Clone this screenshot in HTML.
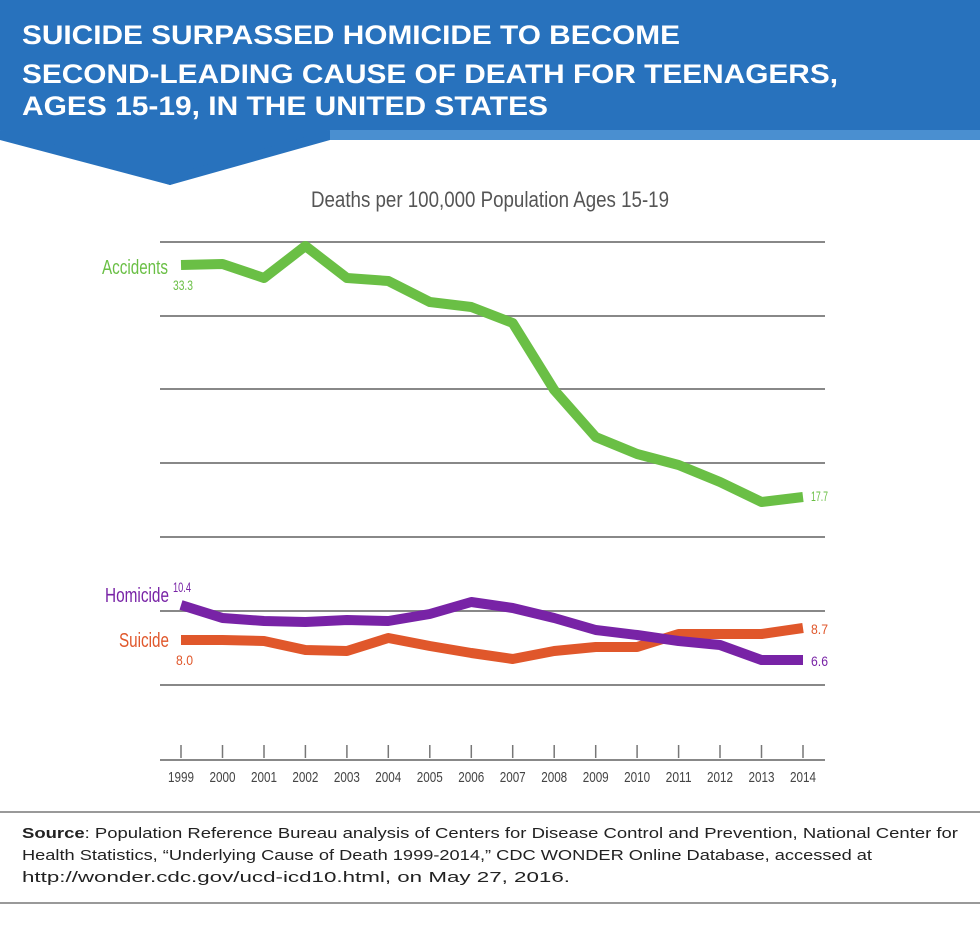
<!DOCTYPE html>
<html><head><meta charset="utf-8"><style>
body{margin:0;width:980px;height:931px;background:#fff;overflow:hidden;font-family:"Liberation Sans",sans-serif}
</style></head><body>
<svg width="980" height="931" xmlns="http://www.w3.org/2000/svg" style="position:absolute;left:0;top:0">
<rect x="0" y="0" width="980" height="140" fill="#4a8fd0"/>
<polygon points="0,0 980,0 980,130 330,130 170,185 0,130" fill="#2872bd"/>
<polygon points="0,130 0,140 170,185 330,140 330,130 170,175" fill="#2872bd"/>
<g font-family="Liberation Sans, sans-serif" font-weight="bold" fill="#fff" font-size="27" lengthAdjust="spacingAndGlyphs">
<text x="22" y="44" textLength="658" lengthAdjust="spacingAndGlyphs">SUICIDE SURPASSED HOMICIDE TO BECOME</text>
<text x="22" y="83" textLength="816" lengthAdjust="spacingAndGlyphs">SECOND-LEADING CAUSE OF DEATH FOR TEENAGERS,</text>
<text x="22" y="115" textLength="526" lengthAdjust="spacingAndGlyphs">AGES 15-19, IN THE UNITED STATES</text>
</g>
<text x="311" y="207" font-size="22" fill="#555" textLength="358" lengthAdjust="spacingAndGlyphs">Deaths per 100,000 Population Ages 15-19</text>
<g stroke="#888" stroke-width="2">
<line x1="160" x2="825" y1="242" y2="242"/><line x1="160" x2="825" y1="316" y2="316"/>
<line x1="160" x2="825" y1="389" y2="389"/><line x1="160" x2="825" y1="463" y2="463"/>
<line x1="160" x2="825" y1="537" y2="537"/><line x1="160" x2="825" y1="611" y2="611"/>
<line x1="160" x2="825" y1="685" y2="685"/><line x1="160" x2="825" y1="760" y2="760"/>
</g>
<g stroke="#777" stroke-width="1.5">
<line x1="181" x2="181" y1="745" y2="758"/><line x1="222.5" x2="222.5" y1="745" y2="758"/><line x1="264" x2="264" y1="745" y2="758"/><line x1="305.4" x2="305.4" y1="745" y2="758"/><line x1="346.9" x2="346.9" y1="745" y2="758"/><line x1="388.3" x2="388.3" y1="745" y2="758"/><line x1="429.8" x2="429.8" y1="745" y2="758"/><line x1="471.3" x2="471.3" y1="745" y2="758"/><line x1="512.7" x2="512.7" y1="745" y2="758"/><line x1="554.2" x2="554.2" y1="745" y2="758"/><line x1="595.7" x2="595.7" y1="745" y2="758"/><line x1="637.1" x2="637.1" y1="745" y2="758"/><line x1="678.6" x2="678.6" y1="745" y2="758"/><line x1="720" x2="720" y1="745" y2="758"/><line x1="761.5" x2="761.5" y1="745" y2="758"/><line x1="803" x2="803" y1="745" y2="758"/>
</g>
<g font-size="15" fill="#444" text-anchor="middle">
<text x="181" y="782" textLength="26" lengthAdjust="spacingAndGlyphs">1999</text><text x="222.5" y="782" textLength="26" lengthAdjust="spacingAndGlyphs">2000</text><text x="264" y="782" textLength="26" lengthAdjust="spacingAndGlyphs">2001</text><text x="305.4" y="782" textLength="26" lengthAdjust="spacingAndGlyphs">2002</text><text x="346.9" y="782" textLength="26" lengthAdjust="spacingAndGlyphs">2003</text><text x="388.3" y="782" textLength="26" lengthAdjust="spacingAndGlyphs">2004</text><text x="429.8" y="782" textLength="26" lengthAdjust="spacingAndGlyphs">2005</text><text x="471.3" y="782" textLength="26" lengthAdjust="spacingAndGlyphs">2006</text><text x="512.7" y="782" textLength="26" lengthAdjust="spacingAndGlyphs">2007</text><text x="554.2" y="782" textLength="26" lengthAdjust="spacingAndGlyphs">2008</text><text x="595.7" y="782" textLength="26" lengthAdjust="spacingAndGlyphs">2009</text><text x="637.1" y="782" textLength="26" lengthAdjust="spacingAndGlyphs">2010</text><text x="678.6" y="782" textLength="26" lengthAdjust="spacingAndGlyphs">2011</text><text x="720" y="782" textLength="26" lengthAdjust="spacingAndGlyphs">2012</text><text x="761.5" y="782" textLength="26" lengthAdjust="spacingAndGlyphs">2013</text><text x="803" y="782" textLength="26" lengthAdjust="spacingAndGlyphs">2014</text>
</g>
<g fill="none" stroke-width="10" stroke-linejoin="round">
<polyline stroke="#6abf45" points="181,265 222.5,264 264,278 305.4,246 346.9,278 388.3,281 429.8,302 471.3,307 512.7,323 554.2,390 595.7,437 637.1,454 678.6,465 720,482 761.5,502 803,497"/>
<polyline stroke="#e0572b" points="181,640 222.5,640 264,641 305.4,650 346.9,651 388.3,638 429.8,646 471.3,653 512.7,659 554.2,651 595.7,647 637.1,647 678.6,634 720,634 761.5,634 803,628"/>
<polyline stroke="#7823a6" points="181,605 222.5,618 264,621 305.4,622 346.9,620 388.3,621 429.8,614 471.3,602 512.7,608 554.2,618 595.7,630 637.1,635 678.6,641 720,645 761.5,660 803,660"/>
</g>
<g>
<text x="102" y="274" font-size="20" fill="#6abf45" textLength="66" lengthAdjust="spacingAndGlyphs">Accidents</text>
<text x="173" y="290" font-size="14" fill="#6abf45" textLength="20" lengthAdjust="spacingAndGlyphs">33.3</text>
<text x="811" y="501" font-size="14" fill="#6abf45" textLength="17" lengthAdjust="spacingAndGlyphs">17.7</text>
<text x="105" y="602" font-size="20" fill="#7823a6" textLength="64" lengthAdjust="spacingAndGlyphs">Homicide</text>
<text x="173" y="592" font-size="14" fill="#7823a6" textLength="18" lengthAdjust="spacingAndGlyphs">10.4</text>
<text x="811" y="666" font-size="14" fill="#7823a6" textLength="17" lengthAdjust="spacingAndGlyphs">6.6</text>
<text x="119" y="647" font-size="20" fill="#e0572b" textLength="50" lengthAdjust="spacingAndGlyphs">Suicide</text>
<text x="176" y="665" font-size="14" fill="#e0572b" textLength="17" lengthAdjust="spacingAndGlyphs">8.0</text>
<text x="811" y="634" font-size="14" fill="#e0572b" textLength="17" lengthAdjust="spacingAndGlyphs">8.7</text>
</g>
<line x1="0" x2="980" y1="812" y2="812" stroke="#999" stroke-width="2"/>
<line x1="0" x2="980" y1="903" y2="903" stroke="#999" stroke-width="2"/>
<g font-size="15" fill="#222">
<text x="22" y="838" textLength="936" lengthAdjust="spacingAndGlyphs"><tspan font-weight="bold">Source</tspan>: Population Reference Bureau analysis of Centers for Disease Control and Prevention, National Center for</text>
<text x="22" y="860" textLength="850" lengthAdjust="spacingAndGlyphs">Health Statistics, “Underlying Cause of Death 1999-2014,” CDC WONDER Online Database, accessed at</text>
<text x="22" y="882" textLength="548" lengthAdjust="spacingAndGlyphs">http://wonder.cdc.gov/ucd-icd10.html, on May 27, 2016.</text>
</g>
</svg>
</body></html>
